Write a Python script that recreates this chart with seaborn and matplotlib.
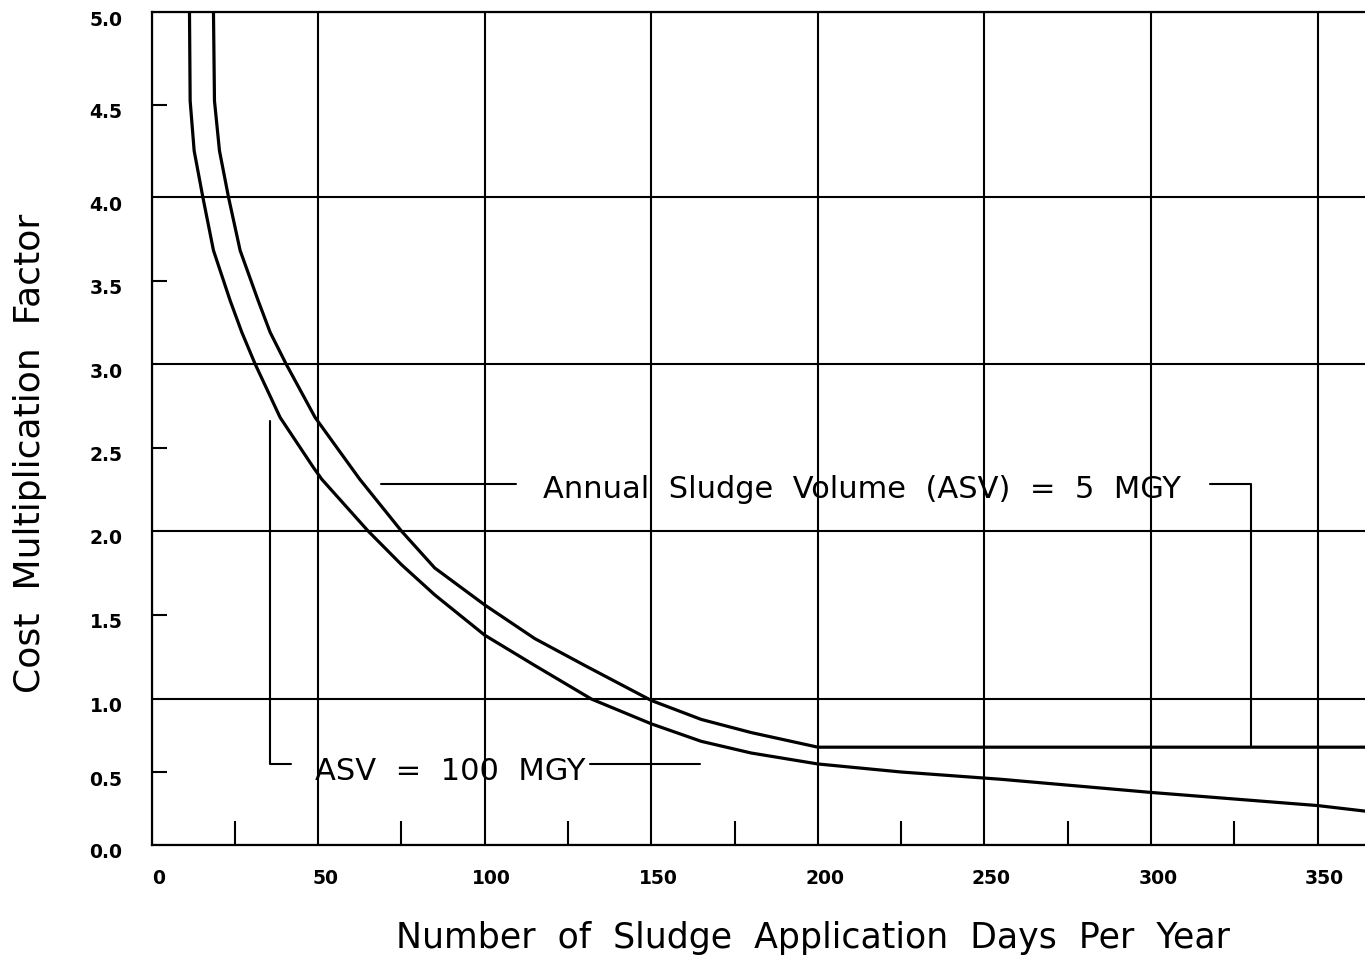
import numpy as np
import pandas as pd
import matplotlib
matplotlib.use("Agg")
import matplotlib.pyplot as plt
import seaborn as sns
from matplotlib.ticker import FixedLocator, FormatStrFormatter, NullFormatter
from matplotlib.transforms import ScaledTranslation

# Cost multiplication factor vs. application days, for two annual sludge volumes
days_100 = [11.4, 11.6, 12.8, 15.4, 18.6, 23.6, 27.1, 31.1, 38.6, 48.6, 51.1, 65, 75, 85,
            100, 115, 132, 150, 165, 180, 200, 225, 255, 300, 350, 365]
cmf_100 = [5.0, 4.52, 4.25, 4.0, 3.68, 3.38, 3.19, 3.0, 2.68, 2.38, 2.31, 2.0, 1.8, 1.62,
           1.38, 1.2, 1.0, 0.83, 0.71, 0.63, 0.555, 0.50, 0.45, 0.36, 0.27, 0.23]

days_5 = [18.6, 18.9, 20.4, 23.1, 26.6, 32.0, 35.6, 40.4, 49.1, 62.5, 75, 85, 100,
          115, 130, 150, 165, 180, 200, 365]
cmf_5 = [5.0, 4.52, 4.25, 4.0, 3.68, 3.38, 3.19, 3.0, 2.68, 2.31, 2.0, 1.78, 1.56,
         1.36, 1.2, 0.99, 0.86, 0.77, 0.67, 0.67]

x_major = [0, 50, 100, 150, 200, 250, 300, 350]
x_minor = [25, 75, 125, 175, 225, 275, 325]
y_major = [0.0, 1.0, 2.0, 3.0, 4.0, 5.0]
y_minor = [0.5, 1.5, 2.5, 3.5, 4.5]

label_5 = "Annual  Sludge  Volume  (ASV)  =  5  MGY"
label_100 = "ASV  =  100  MGY"
x_title = "Number  of  Sludge  Application  Days  Per  Year"
y_title = "Cost  Multiplication  Factor"

df = pd.concat([
    pd.DataFrame({"days": days_100, "cmf": cmf_100, "asv": "100 MGY"}),
    pd.DataFrame({"days": days_5, "cmf": cmf_5, "asv": "5 MGY"}),
])

sns.set_theme(style="white")
plt.rcParams["font.family"] = ["DejaVu Sans"]
plt.rcParams["text.color"] = "black"

# vertical spacing of the unit bands of the grid (points above the x axis)
band_v = np.array([0.0, 1.0, 2.0, 3.0, 4.0, 5.0])
band_h = np.array([0.0, 146.0, 314.0, 481.0, 648.0, 833.0])


def fwd(v):
    v = np.asarray(v, dtype=float)
    out = np.interp(v, band_v, band_h)
    out = np.where(v < 0, v * 146.0, out)
    out = np.where(v > 5, 833.0 + (v - 5) * 185.0, out)
    return out


def inv(h):
    h = np.asarray(h, dtype=float)
    out = np.interp(h, band_h, band_v)
    out = np.where(h < 0, h / 146.0, out)
    out = np.where(h > 833, 5 + (h - 833.0) / 185.0, out)
    return out


W, H = 1365, 959
fig = plt.figure(figsize=(W / 100, H / 100), dpi=100)
ax = fig.add_axes([151.5 / W, (H - 845) / H, (W - 151.5) / W, (845 - 12) / H])

ax.set_yscale("function", functions=(fwd, inv))

sns.lineplot(data=df, x="days", y="cmf", hue="asv", units="asv", estimator=None,
             palette=["black", "black"], linewidth=2.3, legend=False, ax=ax,
             sort=False, zorder=3)

ax.set_xlim(0, 364.2)
ax.set_ylim(0, 5)

for side in ["left", "bottom", "top"]:
    ax.spines[side].set_color("black")
    ax.spines[side].set_linewidth(1.6)
ax.spines["right"].set_visible(False)

ax.xaxis.set_major_locator(FixedLocator(x_major))
ax.xaxis.set_minor_locator(FixedLocator(x_minor))
ax.yaxis.set_major_locator(FixedLocator(y_major))
ax.yaxis.set_minor_locator(FixedLocator(y_minor))
ax.yaxis.set_major_formatter(FormatStrFormatter("%.1f"))
ax.yaxis.set_minor_formatter(FormatStrFormatter("%.1f"))
ax.xaxis.set_minor_formatter(NullFormatter())

ax.grid(True, which="major", color="black", linewidth=1.5)
ax.set_axisbelow(True)

tick_font = dict(labelsize=13.5, labelcolor="black")
ax.tick_params(axis="x", which="major", length=0, pad=17, **tick_font)
ax.tick_params(axis="x", which="minor", direction="in", length=17, width=1.5,
               color="black", bottom=True)
ax.tick_params(axis="y", which="major", length=0, pad=21, **tick_font)
ax.tick_params(axis="y", which="minor", direction="in", length=11, width=1.5,
               color="black", left=True, pad=21, **tick_font)

y_labels = ax.get_yticklabels() + ax.get_yticklabels(minor=True)
for lab in ax.get_xticklabels() + y_labels:
    lab.set_fontweight("bold")
x_shift = ScaledTranslation(7 / 100, 0, fig.dpi_scale_trans)
for lab in ax.get_xticklabels():
    lab.set_transform(lab.get_transform() + x_shift)
y_shift = ScaledTranslation(0, -6 / 100, fig.dpi_scale_trans)
for lab in y_labels:
    lab.set_transform(lab.get_transform() + y_shift)

ax.set_xlabel("")
ax.set_ylabel("")
fig.text(813 / W, 1 - 938 / H, x_title, ha="center", va="center", fontsize=25)
fig.text(30 / W, 1 - 453 / H, y_title, ha="center", va="center",
         rotation=90, fontsize=26)

# callouts for the two curves
lead = dict(color="black", linewidth=1.5, zorder=2)
ax.plot([68.9, 109.4], [2.28, 2.28], **lead)
ax.plot([317.7, 330.0, 330.0], [2.28, 2.28, 0.67], **lead)
ax.plot([35.5, 35.5, 41.9], [2.66, 0.555, 0.555], **lead)
ax.plot([131.6, 164.6], [0.555, 0.555], **lead)
ax.text(117.5, 2.198, label_5, ha="left", va="baseline", fontsize=22, zorder=4)
ax.text(49.1, 0.445, label_100, ha="left", va="baseline", fontsize=22, zorder=4)

fig.savefig("out.png", dpi=100, facecolor="white")
